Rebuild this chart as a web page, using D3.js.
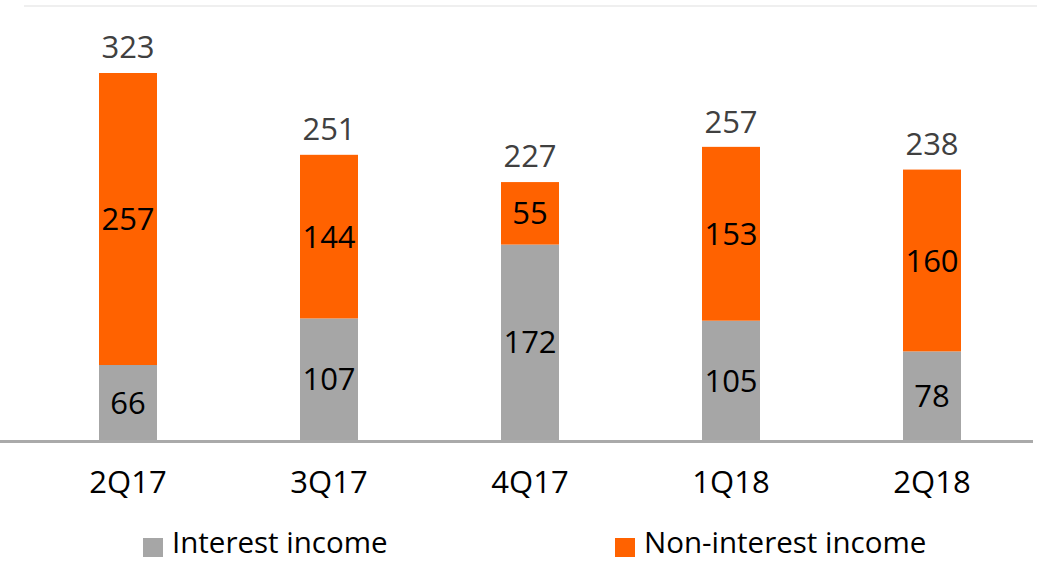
<!DOCTYPE html>
<html><head><meta charset="utf-8">
<script src="https://cdn.jsdelivr.net/npm/d3@7"></script>
<style>html,body{margin:0;padding:0;background:#fff;}svg{display:block;}</style>
</head><body>
<svg id="c" width="1037" height="562"></svg>
<script>
const categories = ["2Q17","3Q17","4Q17","1Q18","2Q18"];
const interestIncome = [66,107,172,105,78];
const nonInterestIncome = [257,144,55,153,160];
const totals = [323,251,227,257,238];
const seriesNames = ["Interest income","Non-interest income"];
const colors = ["#a6a6a6","#ff6200"];

const svg = d3.select("#c");
const font = "'Open Sans', 'Noto Sans', sans-serif";
const x = d3.scaleBand().domain(categories).range([27.5,1032.5]).paddingInner(0.7114).paddingOuter(0.3557);
const y = d3.scaleLinear().domain([0,323]).range([440,73]);

// top light line
svg.append("line").attr("x1",24).attr("x2",1037).attr("y1",6).attr("y2",6)
  .attr("stroke","#efefef").attr("stroke-width",2);

const data = categories.map((c,i)=>({c, a:interestIncome[i], b:nonInterestIncome[i], t:totals[i]}));
const stack = d3.stack().keys(["a","b"])(data);

const bw = 58;
stack.forEach((s,si)=>{
  svg.append("g").selectAll("rect").data(s).join("rect")
    .attr("x",d=>x(d.data.c)+x.bandwidth()/2-bw/2)
    .attr("width",bw)
    .attr("y",d=>y(d[1]))
    .attr("height",d=>y(d[0])-y(d[1]))
    .attr("fill",colors[si]);
  svg.append("g").selectAll("text").data(s).join("text")
    .attr("x",d=>x(d.data.c)+x.bandwidth()/2)
    .attr("y",d=>(y(d[0])+y(d[1]))/2)
    .attr("dy","0.36em")
    .attr("text-anchor","middle")
    .attr("font-family",font).attr("font-size",31).attr("fill","#000")
    .text(d=>d[1]-d[0]);
});

// totals
svg.append("g").selectAll("text").data(data).join("text")
  .attr("x",d=>x(d.c)+x.bandwidth()/2)
  .attr("y",d=>y(d.t)-15)
  .attr("text-anchor","middle")
  .attr("font-family",font).attr("font-size",31).attr("fill","#404040")
  .text(d=>d.t);

// axis
const ax = svg.append("g").attr("transform","translate(0,441.5)")
  .call(d3.axisBottom(x).tickSize(0).tickPadding(0));
ax.select(".domain").remove();
svg.append("line").attr("x1",0).attr("x2",1033).attr("y1",441.5).attr("y2",441.5)
  .attr("stroke","#aaaaaa").attr("stroke-width",3);
ax.selectAll("text").attr("font-family",font).attr("font-size",31).attr("fill","#000")
  .attr("dy",null).attr("y",51);

// legend
const legX = [143,615];
seriesNames.forEach((n,i)=>{
  svg.append("rect").attr("x",legX[i]).attr("y",538).attr("width",20).attr("height",19).attr("fill",colors[i]);
  svg.append("text").attr("x",legX[i]+29).attr("y",553)
    .attr("font-family",font).attr("font-size",29.5).attr("fill","#000").text(n);
});
</script>
</body></html>
